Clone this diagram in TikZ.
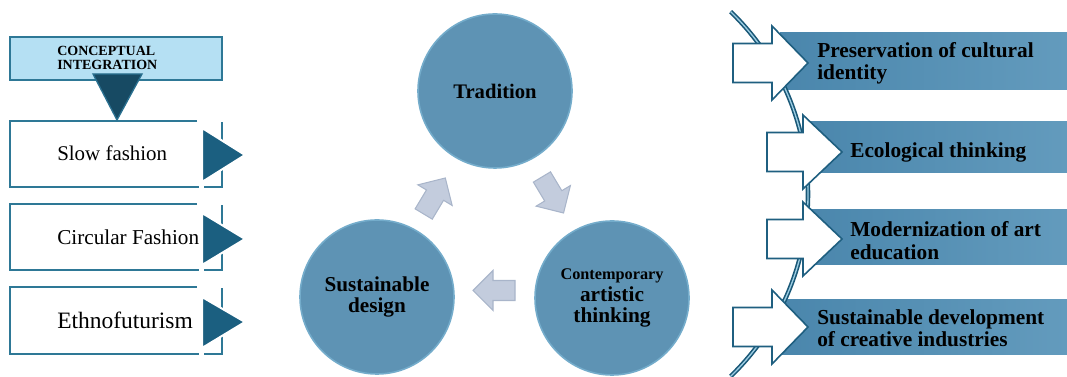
\documentclass[tikz,border=0pt]{standalone}
\usepackage{fontspec}
\setmainfont{Liberation Serif}
\definecolor{frame}{HTML}{2E7896}
\definecolor{lightbox}{HTML}{B5E0F3}
\definecolor{darktri}{HTML}{174A63}
\definecolor{darktriedge}{HTML}{2A7090}
\definecolor{tri}{HTML}{1B5F80}
\definecolor{arrowline}{HTML}{1F5F80}
\definecolor{barL}{HTML}{4A86AC}
\definecolor{barR}{HTML}{639BBD}
\definecolor{arcdark}{HTML}{1A5877}
\definecolor{arclight}{HTML}{9CCDE3}
\definecolor{chevfill}{HTML}{C3CCDD}
\definecolor{chevedge}{HTML}{A9B5CA}
\definecolor{circfill}{HTML}{5E93B4}
\definecolor{circedge}{HTML}{74ACCB}
\newcommand\rarrowshape[4]{%
  \filldraw[rarrow] (#1,{#4-19.5}) -- (#2,{#4-19.5}) -- (#2,{#4-37}) -- (#3,#4) -- (#2,{#4+37}) -- (#2,{#4+19.5}) -- (#1,{#4+19.5}) -- cycle;}
\newcommand\chevshape[3]{%
  \filldraw[chev, shift={(#1,#2)}, rotate=#3] (-21,-10) -- (1,-10) -- (1,-20) -- (21,0) -- (1,20) -- (1,10) -- (-21,10) -- cycle;}
\begin{document}
\begin{tikzpicture}[x=0.75pt,y=0.75pt,
  boxline/.style={draw=frame, line width=1.5pt},
  ltri/.style={fill=tri, draw=white, line width=1.5pt, line join=miter},
  rarrow/.style={fill=white, draw=arrowline, line width=1.2pt, line join=miter},
  barbox/.style={left color=barL, right color=barR, draw=none},
  chev/.style={fill=chevfill, draw=chevedge, line width=0.8pt, line join=miter},
  circ/.style={circle, minimum size=115.5pt, inner sep=0pt, fill=circfill, draw=circedge, line width=1.2pt, align=center},
  bartext/.style={anchor=west, align=left, inner sep=0pt, font=\fontsize{16}{16.7}\selectfont\bfseries},
  lefttext/.style={anchor=west, inner sep=0pt},
  arcline/.style={draw=arcdark, double=arclight, double distance=1pt, line width=1.2pt}
]
\useasboundingbox (0,0) rectangle (1067,377);

% ---------- left column ----------
\draw[boxline, fill=lightbox] (10,297) rectangle (222,340);
\node[lefttext, align=left, font=\fontsize{10.5}{10.7}\selectfont\bfseries] (ci) at (57,319) {CONCEPTUAL\\INTEGRATION};

\draw[boxline] (197,256) -- (10,256) -- (10,190) -- (199,190);
\draw[boxline] (204,190) -- (222,190) -- (222,255);
\draw[boxline] (197,173) -- (10,173) -- (10,107) -- (199,107);
\draw[boxline] (204,107) -- (222,107) -- (222,172);
\draw[boxline] (197,90) -- (10,90) -- (10,23) -- (199,23);
\draw[boxline] (204,23) -- (222,23) -- (222,89);

\filldraw[fill=darktri, draw=darktriedge, line width=1pt, line join=miter] (93,303) -- (142,303) -- (117,257) -- cycle;

\filldraw[ltri] (202,249) -- (245,222) -- (202,195) -- cycle;
\filldraw[ltri] (202,164) -- (245,138) -- (202,112) -- cycle;
\filldraw[ltri] (202,80) -- (245,55) -- (202,29) -- cycle;

\node[lefttext, font=\fontsize{15.7}{18}\selectfont] (slow) at (57,224) {Slow fashion};
\node[lefttext, font=\fontsize{15.9}{18}\selectfont] (circ) at (57,140) {Circular Fashion};
\node[lefttext, font=\fontsize{17.6}{20}\selectfont] (ethno) at (57,57) {Ethnofuturism};

% ---------- middle cycle ----------
\node[circ, font=\fontsize{15.5}{16}\selectfont\bfseries] (trad) at (495,286) {Tradition};
\node[circ, font=\fontsize{15.9}{16}\selectfont\bfseries] (sd) at (377,80) {Sustainable\\design};
\node[circ, font=\fontsize{16}{15.8}\selectfont\bfseries] (cat) at (612,79) {{\fontsize{12.2}{15.8}\selectfont Contemporary}\\artistic\\thinking};

\chevshape{434.5}{181}{59}
\chevshape{552.75}{182}{-59}
\chevshape{494}{86.5}{180}

% ---------- right column ----------
\fill[barbox] (780,287) rectangle (1067,344);
\fill[barbox] (802,204) rectangle (1067,255);
\fill[barbox] (803,112) rectangle (1067,167);
\fill[barbox] (780,22) rectangle (1067,77);

\draw[arcline] (554.5,183) ++(46:253.5) arc[start angle=46, end angle=-46, radius=253.5];

\rarrowshape{733}{772}{808}{314}
\rarrowshape{767}{803}{842}{225}
\rarrowshape{767}{803}{842}{138}
\rarrowshape{733}{772}{808}{50}

\node[bartext] (r1) at (817,314) {Preservation of cultural\\identity};
\node[bartext] (r2) at (850,225) {Ecological thinking};
\node[bartext] (r3) at (850,136.5) {Modernization of art\\education};
\node[bartext] (r4) at (817,48.5) {Sustainable development\\of creative industries};
\end{tikzpicture}
\end{document}
